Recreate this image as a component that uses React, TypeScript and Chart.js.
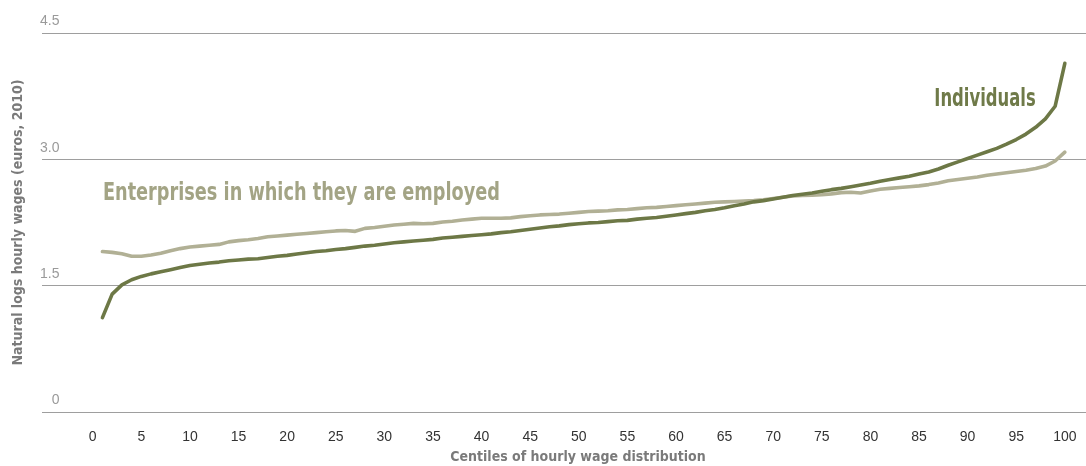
import React, { useEffect, useRef } from "react";
import { Chart, registerables } from "chart.js";

Chart.register(...registerables);

// ---- Data ----
const centiles: number[] = Array.from({ length: 100 }, (_, i) => i + 1);

const individuals: number[] = [
  1.12, 1.40, 1.51, 1.57, 1.61, 1.64, 1.665, 1.69, 1.715, 1.74,
  1.755, 1.77, 1.78, 1.795, 1.805, 1.815, 1.82, 1.835, 1.85, 1.86,
  1.875, 1.89, 1.905, 1.915, 1.93, 1.94, 1.955, 1.97, 1.98, 1.995,
  2.01, 2.02, 2.03, 2.04, 2.05, 2.065, 2.075, 2.085, 2.095, 2.105,
  2.115, 2.13, 2.14, 2.155, 2.17, 2.185, 2.20, 2.21, 2.225, 2.235,
  2.245, 2.25, 2.26, 2.27, 2.275, 2.29, 2.30, 2.31, 2.325, 2.34,
  2.355, 2.37, 2.39, 2.405, 2.425, 2.45, 2.47, 2.495, 2.51, 2.53,
  2.55, 2.57, 2.585, 2.60, 2.62, 2.64, 2.655, 2.675, 2.695, 2.715,
  2.74, 2.76, 2.78, 2.80, 2.825, 2.85, 2.885, 2.93, 2.97, 3.01,
  3.05, 3.09, 3.13, 3.18, 3.235, 3.30, 3.38, 3.48, 3.63, 4.14,
];

const enterprises: number[] = [
  1.905, 1.895, 1.88, 1.85, 1.85, 1.865, 1.885, 1.915, 1.94, 1.96,
  1.97, 1.98, 1.99, 2.02, 2.035, 2.045, 2.06, 2.08, 2.09, 2.10,
  2.11, 2.12, 2.13, 2.14, 2.15, 2.155, 2.145, 2.18, 2.19, 2.205,
  2.22, 2.23, 2.24, 2.235, 2.24, 2.255, 2.265, 2.28, 2.29, 2.30,
  2.30, 2.30, 2.305, 2.32, 2.33, 2.34, 2.345, 2.35, 2.36, 2.37,
  2.38, 2.385, 2.39, 2.40, 2.405, 2.415, 2.425, 2.43, 2.44, 2.45,
  2.46, 2.47, 2.48, 2.49, 2.495, 2.50, 2.505, 2.51, 2.52, 2.535,
  2.55, 2.565, 2.57, 2.575, 2.58, 2.59, 2.605, 2.61, 2.60, 2.625,
  2.645, 2.655, 2.665, 2.675, 2.685, 2.70, 2.72, 2.745, 2.76, 2.775,
  2.79, 2.81, 2.825, 2.84, 2.855, 2.87, 2.89, 2.92, 2.98, 3.085,
];

const xTicks: number[] = [0, 5, 10, 15, 20, 25, 30, 35, 40, 45, 50, 55, 60, 65, 70, 75, 80, 85, 90, 95, 100];
const yTicks: number[] = [0, 1.5, 3, 4.5];
const yTickLabels: string[] = ["0", "1.5", "3.0", "4.5"];

const seriesNames: string[] = ["Individuals", "Enterprises in which they are employed"];
// label anchor in data space (centile, value)
const labelCentile: number[] = [97.0, 1.05];
const labelValue: number[] = [3.63, 2.52];

const xTitle = "Centiles of hourly wage distribution";
const yTitle = "Natural logs hourly wages (euros, 2010)";

// ---- Styles ----
const DARK = "#6d7846";
const LIGHT = "#b1b095";
const DARK_TEXT = "#6f7a49";
const LIGHT_TEXT = "#a3a485";
const FONT = "'Liberation Sans', Arial, sans-serif";
const CONDENSED = "'DejaVu Sans Condensed', 'Liberation Sans Narrow', sans-serif";
const labelColors = [DARK_TEXT, LIGHT_TEXT];
const labelAlign: CanvasTextAlign[] = ["right", "left"];
const labelStretch = [0.76, 0.82];

const seriesLabelPlugin = {
  id: "seriesLabels",
  afterDatasetsDraw(chart: any) {
    const { ctx, scales } = chart;
    const x = scales.x;
    const y = scales.y;
    seriesNames.forEach((text, i) => {
      const px = x.getPixelForValue(labelCentile[i]);
      const py = y.getPixelForValue(labelValue[i]);
      ctx.save();
      ctx.font = `bold 24px ${CONDENSED}`;
      ctx.fillStyle = labelColors[i];
      ctx.textAlign = labelAlign[i];
      ctx.textBaseline = "alphabetic";
      ctx.translate(px, py);
      ctx.scale(labelStretch[i], 1);
      ctx.fillText(text, 0, 0);
      ctx.restore();
    });
  },
};

export default function App() {
  const ref = useRef<HTMLCanvasElement | null>(null);

  useEffect(() => {
    if (!ref.current) return;
    const chart = new Chart(ref.current, {
      type: "line",
      data: {
        datasets: [
          {
            label: seriesNames[0],
            data: individuals.map((v, i) => ({ x: centiles[i], y: v })),
            borderColor: DARK,
            borderWidth: 3.6,
            pointRadius: 0,
            tension: 0,
            fill: false,
            borderCapStyle: "round",
            borderJoinStyle: "round",
            order: 0,
          },
          {
            label: seriesNames[1],
            data: enterprises.map((v, i) => ({ x: centiles[i], y: v })),
            borderColor: LIGHT,
            borderWidth: 3.6,
            pointRadius: 0,
            tension: 0,
            fill: false,
            borderCapStyle: "round",
            borderJoinStyle: "round",
            order: 1,
          },
        ],
      },
      options: {
        animation: false,
        responsive: true,
        maintainAspectRatio: false,
        layout: { padding: { top: 33, left: 0, right: 0, bottom: 0 } },
        plugins: { legend: { display: false }, tooltip: { enabled: false } },
        scales: {
          x: {
            type: "linear",
            min: -3.16,
            max: 103.0,
            afterBuildTicks: (s: any) => {
              s.ticks = xTicks.map((v) => ({ value: v }));
            },
            afterFit: (s: any) => {
              s.height = 54;
            },
            grid: { display: false },
            border: { display: false },
            ticks: {
              autoSkip: false,
              maxRotation: 0,
              padding: 9,
              color: "#333333",
              font: { family: FONT, size: 14 },
            },
            title: {
              display: true,
              text: xTitle,
              color: "#7a7a7a",
              font: { family: CONDENSED, size: 14, weight: "bold" },
              padding: { top: 0, bottom: 0 },
            },
          },
          y: {
            min: 0,
            max: 4.5,
            afterBuildTicks: (s: any) => {
              s.ticks = yTicks.map((v) => ({ value: v }));
            },
            afterFit: (s: any) => {
              s.width = 62;
            },
            grid: { color: "#9e9e9e", lineWidth: 1, drawTicks: true, tickLength: 20 },
            border: { display: false },
            ticks: {
              mirror: true,
              padding: -22,
              labelOffset: -11.5,
              color: "#9a9a9a",
              font: { family: FONT, size: 14 },
              // short labels are right-aligned with the others by leading spaces
              callback: (_v: any, i: number) =>
                yTickLabels[i].length === 1 ? "   " + yTickLabels[i] : yTickLabels[i],
            },
            title: {
              display: true,
              text: yTitle,
              color: "#7a7a7a",
              font: { family: CONDENSED, size: 14, weight: "bold" },
              padding: { top: 10, bottom: 0 },
            },
          },
        },
      },
      plugins: [seriesLabelPlugin],
    });
    return () => chart.destroy();
  }, []);

  return (
    <div style={{ position: "absolute", left: 0, top: 0, width: 1086, height: 466, overflow: "hidden", background: "#fff" }}>
      <div style={{ position: "relative", width: 1094, height: 466 }}>
        <canvas ref={ref} />
      </div>
    </div>
  );
}
